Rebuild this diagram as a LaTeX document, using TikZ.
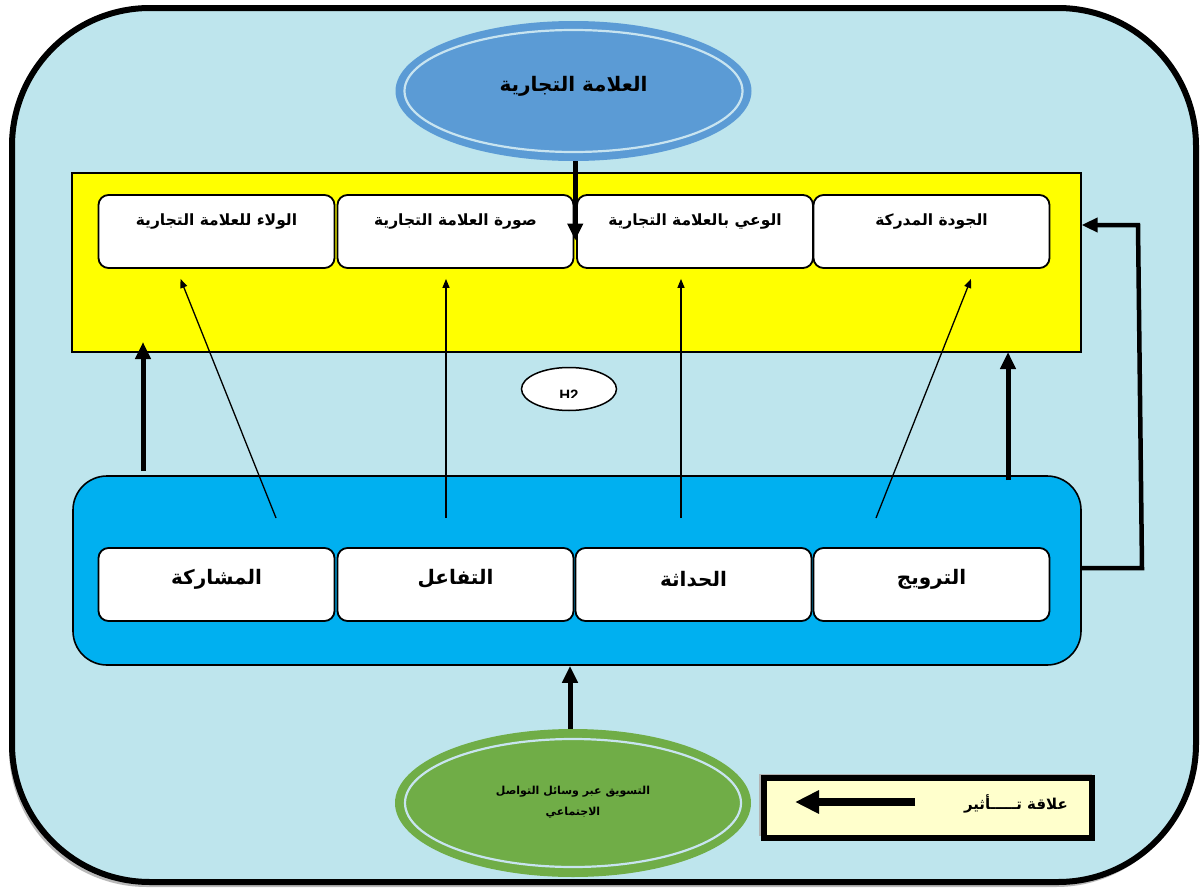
\documentclass[tikz,border=0pt]{standalone}
\usepackage{fontspec}
\setmainfont{Liberation Sans}
\newfontfamily\arabicfont[Script=Arabic]{DejaVu Sans}
\TeXXeTstate=1
\usetikzlibrary{arrows.meta,shapes.geometric,calc}
\definecolor{bgblue}{RGB}{190,229,237}
\definecolor{ybox}{RGB}{255,255,0}
\definecolor{cbox}{RGB}{0,176,240}
\definecolor{topblue}{RGB}{91,155,213}
\definecolor{gell}{RGB}{112,173,71}
\definecolor{ring}{RGB}{200,228,240}
\definecolor{legfill}{RGB}{255,255,204}
\tikzset{
  frame/.style={draw=black, line width=6pt, fill=bgblue, rounded corners=138pt},
  ybig/.style={draw=black, line width=1.3pt, fill=ybox, minimum width=1009pt, minimum height=179pt, inner sep=0pt},
  cbig/.style={draw=black, line width=1.6pt, fill=cbox, rounded corners=34pt, minimum width=1008pt, minimum height=189pt, inner sep=0pt},
  wbox/.style={draw=black, line width=1.8pt, fill=white, rounded corners=10pt, minimum width=236pt, minimum height=73pt, inner sep=0pt},
  toptxt/.style={font=\arabicfont\bfseries\fontsize{15.5}{18}\selectfont, inner sep=0pt},
  bottxt/.style={font=\arabicfont\bfseries\fontsize{20}{24}\selectfont, inner sep=0pt},
  bigell/.style={ellipse, draw=none, minimum width=356pt, minimum height=140pt, inner sep=0pt},
  hyp/.style={ellipse, draw=black, line width=1.5pt, fill=white, minimum width=95pt, minimum height=43pt, inner sep=0pt},
  thickarrow/.style={line width=5pt, -{Triangle[length=17pt,width=15pt]}},
  thinarrow/.style={line width=1.3pt, -{Triangle[length=9pt,width=7pt]}},
  legbox/.style={draw=black, line width=6pt, fill=legfill, minimum width=328pt, minimum height=60pt, inner sep=0pt},
}
\begin{document}
\begin{tikzpicture}[x=1pt,y=-1pt]
\useasboundingbox (0,0) rectangle (1203,889);
\fill[white] (0,0) rectangle (1203,889);
% outer frame with shadow
\fill[gray!55, rounded corners=138pt] (9,12) rectangle (1194,887);
\node[frame, minimum width=1184pt, minimum height=874pt, inner sep=0pt] (frame) at (604,445) {};

% yellow and cyan panels
\node[ybig] (ypanel) at (576.5,262.5) {};
\node[cbig] (cpanel) at (577,570.5) {};

% top row boxes
\node[wbox] (w1) at (216.5,231.5) {};
\node[wbox] (w2) at (455.5,231.5) {};
\node[wbox] (w3) at (695,231.5) {};
\node[wbox] (w4) at (931.5,231.5) {};
\node[toptxt] (w1t) at (216.5,222) {\beginR الولاء للعلامة التجارية\endR};
\node[toptxt] (w2t) at (455.5,222) {\beginR صورة العلامة التجارية\endR};
\node[toptxt] (w3t) at (695,222) {\beginR الوعي بالعلامة التجارية\endR};
\node[toptxt] (w4t) at (931.5,222) {\beginR الجودة المدركة\endR};

% bottom row boxes
\node[wbox] (b1) at (216.5,584.5) {};
\node[wbox] (b2) at (455.5,584.5) {};
\node[wbox] (b3) at (693.5,584.5) {};
\node[wbox] (b4) at (931.5,584.5) {};
\node[bottxt] (b1t) at (216.5,579) {\beginR المشاركة\endR};
\node[bottxt] (b2t) at (455.5,579) {\beginR التفاعل\endR};
\node[bottxt] (b3t) at (693.5,579) {\beginR الحداثة\endR};
\node[bottxt] (b4t) at (931.5,579) {\beginR الترويج\endR};

% top ellipse
\node[bigell, fill=topblue] (brand) at (573.5,91) {};
\draw[ring, line width=2.2pt] (brand.center) ellipse [x radius=169, y radius=61];
\node[font=\arabicfont\bfseries\fontsize{20}{24}\selectfont, inner sep=0pt] (brandt) at (573.5,86) {\beginR العلامة التجارية\endR};

% bottom ellipse
\node[bigell, fill=gell, minimum height=148pt] (smm) at (573,803) {};
\draw[ring, line width=2.2pt] (smm.center) ellipse [x radius=168, y radius=64];
\node[font=\arabicfont\bfseries\fontsize{11}{21}\selectfont, align=center, inner sep=0pt] (smmt) at (573,802)
  {\beginR التسويق عبر وسائل التواصل\endR\\\beginR الاجتماعي\endR};

% H2 ellipse
\node[hyp] (h2) at (569,389) {};
\begin{scope}
\clip (500,360) rectangle (640,397);
\node[font=\bfseries\fontsize{15}{18}\selectfont, inner sep=0pt] (h2t) at (569,395.5) {H2};
\end{scope}

% coordinates
\coordinate (tip0) at ($(w2.east)!0.5!(w3.west) + (0,9)$);
\coordinate (s1) at (276,518);
\coordinate (s2) at (446,518);
\coordinate (s3) at (681,518);
\coordinate (s4) at (876,518);
\coordinate (e1) at ([xshift=-36pt,yshift=-10pt]w1.south);
\coordinate (e2) at ([xshift=-9.5pt,yshift=-10pt]w2.south);
\coordinate (e3) at ([xshift=-14pt,yshift=-10pt]w3.south);
\coordinate (e4) at ([xshift=39.5pt,yshift=-10pt]w4.south);
\coordinate (lu1) at (143,471);
\coordinate (lu2) at (143,342);
\coordinate (ru1) at (1008,480);
\coordinate (ru2) at (1008,352);
\coordinate (rc1) at (1142,568);
\coordinate (rc2) at (1138,225);

% arrows
\draw[thickarrow] (tip0 |- brand.south) -- (tip0);
\draw[thinarrow] (s1) -- (e1);
\draw[thinarrow] (s2) -- (e2);
\draw[thinarrow] (s3) -- (e3);
\draw[thinarrow] (s4) -- (e4);
\draw[thickarrow] (lu1) -- (lu2);
\draw[thickarrow] (ru1) -- (ru2);
\draw[line width=4.5pt, -{Triangle[length=16pt,width=14pt]}] (cpanel.east |- rc1) -- (rc1) -- (rc2) -- (ypanel.east |- rc2);
\draw[thickarrow] ([xshift=-3pt]smm.north) -- ([xshift=-3pt]smm.north |- cpanel.south);

% legend
\fill[gray!60] (759,774) rectangle (1092,836);
\node[legbox] (leg) at (928,808) {};
\coordinate (la1) at (915,802);
\coordinate (la2) at (795,802);
\draw[line width=8pt, -{Triangle[length=24pt,width=22pt]}] (la1) -- (la2);
\node[font=\arabicfont\bfseries\fontsize{15}{18}\selectfont, anchor=east, inner sep=0pt] (legt) at (1068,804) {\beginR علاقة تـــــأثير\endR};
\end{tikzpicture}
\end{document}
